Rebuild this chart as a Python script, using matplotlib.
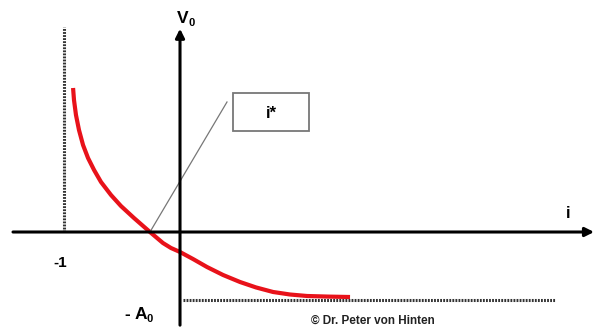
import numpy as np
import matplotlib.pyplot as plt

# curve: interest rate i vs. net present value V0 (A0 = 1)
rate = [-0.922, -0.914, -0.897, -0.871, -0.836, -0.793, -0.741, -0.681,
        -0.595, -0.509, -0.397, -0.259, -0.147, -0.078, 0.0, 0.112,
        0.233, 0.371, 0.517, 0.655, 0.802, 0.948, 1.095, 1.280, 1.466]
npv = [2.118, 1.941, 1.721, 1.500, 1.279, 1.088, 0.912, 0.735,
       0.544, 0.382, 0.206, 0.0, -0.162, -0.235, -0.294, -0.397,
       -0.515, -0.632, -0.735, -0.815, -0.882, -0.919, -0.941, -0.950, -0.956]
i_star = -0.259
a0 = -1.0
i_min = -1.0


def main():
    plt.rcParams['font.family'] = ['Liberation Sans', 'DejaVu Sans']
    fig = plt.figure(figsize=(5.95, 3.34), dpi=100)
    ax = fig.add_axes([0, 0, 1, 1])
    ax.set_xlim(-1.552, 3.578)
    ax.set_ylim(-1.5, 3.412)
    ax.axis('off')

    # axes with arrows
    arrow = dict(arrowstyle='-|>', lw=2.2, color='black', mutation_scale=13,
                 shrinkA=0, shrinkB=0)
    ax.annotate('', xy=(3.57, 0), xytext=(-1.44, 0), arrowprops=arrow)
    ax.annotate('', xy=(0, 2.99), xytext=(0, -1.37), arrowprops=arrow)

    # asymptotes
    ax.plot([i_min, i_min], [0, 3.01], color='#333333', lw=2.2,
            linestyle=(0, (0.6, 0.4)))
    ax.plot([0.03, 3.23], [a0, a0], color='#333333', lw=2.2,
            linestyle=(0, (0.6, 0.4)))

    # NPV curve
    ax.plot(rate, npv, color='#e8121a', lw=3, solid_capstyle='butt',
            solid_joinstyle='round')

    # internal rate label
    ax.plot([i_star, 0.405], [0, 1.912], color='#777777', lw=0.9)
    ax.add_patch(plt.Rectangle((0.457, 1.485), 0.655, 0.559, fill=False,
                               edgecolor='#777777', lw=1.3))
    ax.text(0.784, 1.74, 'i*', ha='center', va='center', fontsize=12,
            fontweight='bold')

    # axis labels
    ax.text(-0.025, 3.08, 'V', ha='left', va='baseline', fontsize=12.5,
            fontweight='bold')
    ax.text(0.075, 3.03, '0', ha='left', va='baseline', fontsize=8,
            fontweight='bold')
    ax.text(3.35, 0.2, 'i', ha='center', va='baseline', fontsize=12,
            fontweight='bold')
    ax.text(-1.03, -0.52, '-1', ha='center', va='baseline', fontsize=11,
            fontweight='bold')
    ax.text(-0.47, -1.28, '- A', ha='left', va='baseline', fontsize=12.5,
            fontweight='bold')
    ax.text(-0.285, -1.33, '0', ha='left', va='baseline', fontsize=8,
            fontweight='bold')

    ax.text(1.665, -1.31, '\u00a9 Dr. Peter von Hinten', ha='center',
            va='center', fontsize=8.5, fontweight='bold', color='#222222')

    fig.savefig('out.png', dpi=100)


if __name__ == '__main__':
    main()
